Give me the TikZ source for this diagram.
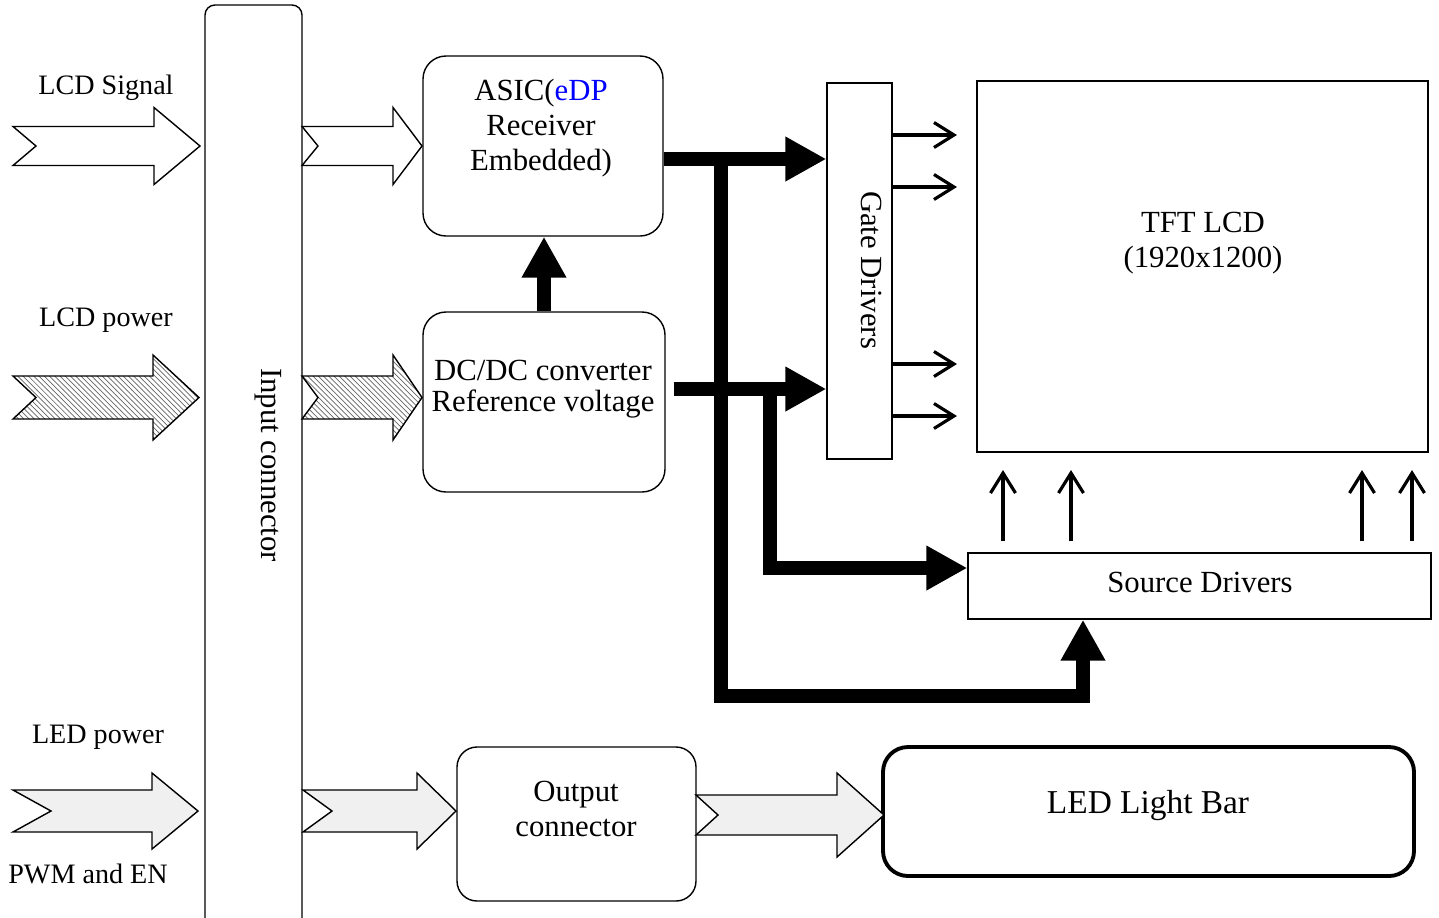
\documentclass[tikz,border=0pt]{standalone}
\usepackage{fontspec}
\setmainfont{Liberation Serif}
\usepackage{xcolor}
\usepackage{tikz}
\usetikzlibrary{positioning,calc,patterns,arrows.meta}

% notched block arrow: [style]{tail}{notch}{head start}{tip}{centre y}{shaft half}{head half}
\newcommand{\blockarrow}[8][]{%
  \draw[#1] (#2,#6-#7) -- (#4,#6-#7) -- (#4,#6-#8) -- (#5,#6)
    -- (#4,#6+#8) -- (#4,#6+#7) -- (#2,#6+#7) -- (#2+#3,#6) -- cycle;}

\begin{document}
\begin{tikzpicture}[x=0.02cm, y=-0.02cm,
    wh/.style 2 args={minimum width=#1*0.02cm, minimum height=#2*0.02cm},
    box/.style={draw, line width=0.8pt, inner sep=0pt},
    rbox/.style={box, rounded corners=0.46cm},
    txt/.style={font=\fontsize{17.5pt}{20pt}\selectfont, align=center},
    lbl/.style={font=\fontsize{16pt}{19pt}\selectfont, anchor=base},
    bus/.style={line width=0.28cm, -{Triangle[length=0.82cm,width=0.84cm]}},
    sig/.style={line width=1.8pt, -{Straight Barb[length=0.4cm,width=0.5cm]}},
    hollow/.style={draw, line width=0.8pt, fill=white},
    hatched/.style={draw, line width=0.8pt, preaction={fill=white}, pattern=north west lines, pattern color=black!60},
    speckled/.style={draw, line width=0.8pt, fill=gray!12}]
    \useasboundingbox (0,0) rectangle (1439,917);

    % Input connector
    \node[box, rounded corners=0.2cm, wh={97}{935}] (conn) at (253.5,472.5) {};
    \node[txt, rotate=-90] (conntxt) at (268,465) {Input connector};

    % Blocks
    \node[rbox, wh={240}{180}] (asic) at (543,146) {};
    \node[txt] (asictxt) at (541,128) {ASIC(\textcolor{blue}{eDP}\\Receiver\\Embedded)};
    \node[rbox, wh={242}{180}] (dcdc) at (544,402) {};
    \node[txt, font=\fontsize{17.5pt}{17.6pt}\selectfont] (dcdctxt) at (543,389.5) {DC/DC converter\\Reference voltage};
    \node[rbox, rounded corners=0.4cm, wh={239}{154}] (outc) at (576.5,824) {};
    \node[txt] (outctxt) at (576,809) {Output\\connector};
    \node[box, wh={65}{376}] (gate) at (859.5,271) {};
    \node[txt, rotate=-90] (gatetxt) at (872,270) {Gate Drivers};
    \node[box, line width=1.2pt, wh={451}{371}] (tft) at (1202.5,266.5) {};
    \node[txt] (tfttxt) at (1203,243) {TFT LCD\\(1920x1200)};
    \node[box, wh={463}{66}] (src) at (1199.5,586) {};
    \node[txt] (srctxt) at (1200,582) {Source Drivers};
    \node[box, line width=2.2pt, rounded corners=0.5cm, wh={531}{129}] (led) at (1148.5,811.5) {};
    \node[txt, font=\fontsize{19pt}{22pt}\selectfont] (ledtxt) at (1148,806) {LED Light Bar};

    % Input labels
    \node[lbl] (lcdsig) at (106,94) {LCD Signal};
    \node[lbl] (lcdpwr) at (106,326) {LCD power};
    \node[lbl] (ledpwr) at (98,743) {LED power};
    \node[lbl] (pwm) at (88,883) {PWM and EN};

    % Block arrows
    \blockarrow[hollow]{13}{23}{154}{200}{146}{19.5}{38.5}
    \blockarrow[hollow]{302}{16}{393}{422}{146}{19.5}{38.5}
    \blockarrow[hatched]{13}{23}{153}{199}{397.5}{21.5}{42.5}
    \blockarrow[hatched]{302}{16}{393}{422}{397.5}{21.5}{42.5}
    \blockarrow[speckled]{13}{38}{152}{198}{811}{21}{38}
    \blockarrow[speckled]{303}{29}{417}{456}{811}{21}{38}
    \blockarrow[speckled]{696}{22}{837}{884}{815}{20}{42}

    % Bus lines
    \coordinate (a1) at ($(asic.east)+(0,13)$);
    \coordinate (j1) at ($(a1)+(57,0)$);
    \coordinate (b1) at (1083,696);
    \coordinate (d1) at ($(dcdc.east)+(8,-13)$);
    \coordinate (j2) at ($(d1)+(96,0)$);
    \coordinate (s2) at ($(src.west)+(0,-18)$);
    \draw[bus] (a1) -- (a1 -| gate.west);
    \draw[bus] (j1) |- (b1) -- (b1 |- src.south);
    \draw[bus] (d1) -- (d1 -| gate.west);
    \draw[bus] (j2) |- (s2);
    \draw[bus] (dcdc.north) -- (dcdc.north |- asic.south);

    % Driver outputs
    \foreach \y in {135,187,364,416}
        \draw[sig, shorten >=0.38cm] (gate.east |- 0,\y) -- (tft.west |- 0,\y);
    \foreach \x in {1003,1071,1362,1412}
        \draw[sig, shorten <=0.22cm, shorten >=0.34cm] (src.north -| \x,0) -- (tft.south -| \x,0);
\end{tikzpicture}
\end{document}
